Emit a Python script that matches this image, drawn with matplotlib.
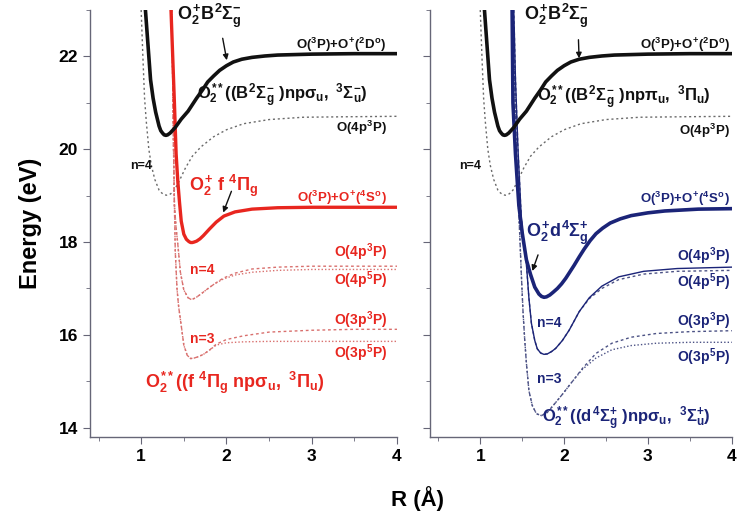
import matplotlib
matplotlib.use('Agg')
import matplotlib.pyplot as plt
from matplotlib.ticker import MultipleLocator

plt.rcParams['font.family'] = ['Liberation Sans', 'DejaVu Sans']
plt.rcParams['font.weight'] = 'bold'
plt.rcParams['mathtext.fontset'] = 'custom'
plt.rcParams['mathtext.rm'] = 'Liberation Sans:bold'
plt.rcParams['mathtext.it'] = 'Liberation Sans:bold'
plt.rcParams['mathtext.bf'] = 'Liberation Sans:bold'
plt.rcParams['mathtext.sf'] = 'Liberation Sans:bold'

BLACK = '#111111'
RED = '#e8261f'
RED_DOT = '#d9706e'
NAVY = '#1b2478'
NAVY_DOT = '#4c5285'
GRAY_DOT = '#6a6a6a'

# --- O2+ B2Sigma_g- (both panels)
B_R = [1.05, 1.07, 1.09, 1.11, 1.14, 1.17, 1.21, 1.23, 1.25, 1.27, 1.29, 1.31, 1.34,
       1.37, 1.40, 1.47, 1.55, 1.65, 1.72, 1.78, 1.85, 1.92, 2.0, 2.08, 2.18, 2.3,
       2.45, 2.6, 3.0, 3.5, 4.0]
B_E = [23.0, 22.5, 22.0, 21.5, 21.1, 20.8, 20.5, 20.4, 20.35, 20.31, 20.3, 20.31, 20.35,
       20.41, 20.47, 20.65, 20.82, 21.1, 21.28, 21.45, 21.58, 21.7, 21.8, 21.88, 21.94, 21.98,
       22.01, 22.03, 22.05, 22.06, 22.06]

# --- Rydberg n=4 converging to O(4p3P), gray dotted (both panels)
G_R = [1.00, 1.02, 1.04, 1.06, 1.09, 1.12, 1.16, 1.21, 1.24, 1.27, 1.30, 1.33, 1.36, 1.39,
       1.45, 1.52, 1.60, 1.70, 1.85, 2.0, 2.2, 2.5, 2.9, 3.4, 4.0]
G_E = [23.0, 22.0, 21.1, 20.6, 20.0, 19.65, 19.35, 19.12, 19.06, 19.02, 19.01, 19.02, 19.06, 19.12,
       19.33, 19.6, 19.85, 20.05, 20.27, 20.42, 20.55, 20.64, 20.69, 20.7, 20.71]

# --- O2+ f4Pi_g (left, red)
F_R = [1.35, 1.37, 1.39, 1.41, 1.43, 1.45, 1.47, 1.50, 1.53, 1.56, 1.58, 1.60, 1.62,
       1.65, 1.69, 1.73, 1.80, 1.88, 1.97, 2.1, 2.3, 2.6, 3.0, 3.5, 4.0]
F_E = [23.0, 22.0, 21.0, 19.9, 19.3, 18.85, 18.45, 18.17, 18.06, 18.01, 17.99, 17.99, 18.0,
       18.02, 18.07, 18.14, 18.28, 18.43, 18.56, 18.65, 18.71, 18.74, 18.75, 18.75, 18.75]

# --- left n=4 pair (3P / 5P)
F4_R = [1.36, 1.37, 1.38, 1.39, 1.41, 1.43, 1.46, 1.50, 1.55, 1.59, 1.64, 1.70,
        1.77, 1.86, 1.96, 2.1, 2.3, 2.6, 3.0, 3.5, 4.0]
F4_3P = [23.0, 21.5, 20.0, 18.8, 18.3, 17.95, 17.35, 16.97, 16.8, 16.76, 16.8, 16.88,
         16.98, 17.1, 17.22, 17.33, 17.42, 17.46, 17.48, 17.48, 17.48]
F4_5P = [23.0, 21.5, 20.0, 18.8, 18.3, 17.95, 17.35, 16.97, 16.8, 16.76, 16.8, 16.88,
         16.98, 17.1, 17.2, 17.29, 17.35, 17.39, 17.41, 17.41, 17.41]

# --- left n=3 pair
F3_R = [1.36, 1.37, 1.38, 1.39, 1.40, 1.42, 1.44, 1.47, 1.50, 1.54, 1.58, 1.62,
        1.67, 1.73, 1.80, 1.88, 2.0, 2.2, 2.5, 3.0, 3.5, 4.0]
F3_3P = [23.0, 21.5, 20.0, 18.8, 17.8, 17.0, 16.6, 16.2, 15.78, 15.56, 15.49, 15.5,
         15.53, 15.58, 15.67, 15.8, 15.9, 15.98, 16.06, 16.1, 16.12, 16.12]
F3_5P = [23.0, 21.5, 20.0, 18.8, 17.8, 17.0, 16.6, 16.2, 15.78, 15.56, 15.49, 15.5,
         15.53, 15.58, 15.67, 15.78, 15.83, 15.85, 15.86, 15.86, 15.86, 15.86]

# --- O2+ d4Sigma_g+ (right, navy)
D_R = [1.38, 1.39, 1.42, 1.46, 1.50, 1.55, 1.60, 1.65, 1.70, 1.73, 1.76, 1.79, 1.83,
       1.87, 1.92, 1.97, 2.02, 2.07, 2.12, 2.18, 2.24, 2.31, 2.38, 2.46, 2.55, 2.67,
       2.8, 3.0, 3.2, 3.6, 4.0]
D_E = [23.0, 21.0, 19.9, 18.8, 18.2, 17.62, 17.3, 17.03, 16.88, 16.83, 16.81, 16.82, 16.86,
       16.92, 17.0, 17.1, 17.22, 17.36, 17.5, 17.68, 17.85, 18.03, 18.18, 18.3, 18.41, 18.5,
       18.57, 18.63, 18.67, 18.71, 18.72]

# --- right n=4 pair
D4_R = [1.40, 1.42, 1.45, 1.49, 1.52, 1.55, 1.58, 1.61, 1.65, 1.68, 1.72, 1.76, 1.80,
        1.85, 1.90, 1.98, 2.06, 2.18, 2.3, 2.45, 2.65, 2.95, 3.35, 4.0]
D4_3P = [23.0, 21.5, 20.0, 18.5, 17.95, 17.54, 16.8, 16.25, 15.88, 15.7, 15.61, 15.58, 15.59,
         15.64, 15.71, 15.88, 16.1, 16.5, 16.8, 17.05, 17.25, 17.37, 17.43, 17.46]
D4_5P = [23.0, 21.5, 20.0, 18.5, 17.95, 17.54, 16.8, 16.25, 15.88, 15.7, 15.61, 15.58, 15.59,
         15.64, 15.71, 15.88, 16.1, 16.5, 16.78, 17.0, 17.19, 17.31, 17.37, 17.39]

# --- right n=3 pair
D3_R = [1.39, 1.41, 1.43, 1.45, 1.47, 1.49, 1.51, 1.53, 1.55, 1.58, 1.62, 1.67,
        1.73, 1.80, 1.88, 1.98, 2.1, 2.22, 2.38, 2.57, 2.8, 3.1, 3.5, 4.0]
D3_3P = [23.0, 21.5, 20.0, 19.0, 18.2, 17.3, 16.5, 15.9, 15.4, 14.8, 14.48, 14.3,
         14.26, 14.33, 14.5, 14.72, 15.0, 15.28, 15.6, 15.82, 15.95, 16.03, 16.07, 16.09]
D3_5P = [23.0, 21.5, 20.0, 19.0, 18.2, 17.3, 16.5, 15.9, 15.4, 14.8, 14.48, 14.3,
         14.26, 14.33, 14.5, 14.72, 15.0, 15.26, 15.5, 15.68, 15.77, 15.82, 15.84, 15.84]

fig = plt.figure(figsize=(7.37, 5.15), dpi=100)
axL = fig.add_axes([0.1221, 0.1515, 0.4166, 0.829])
axR = fig.add_axes([0.5834, 0.1515, 0.4095, 0.829])

for ax in (axL, axR):
    ax.set_xlim(0.4, 4.0)
    ax.set_ylim(13.8, 23.0)
    ax.spines['top'].set_visible(False)
    ax.spines['right'].set_visible(False)
    for s in ('left', 'bottom'):
        ax.spines[s].set_color('#666677')
        ax.spines[s].set_linewidth(1.0)
    ax.xaxis.set_major_locator(MultipleLocator(1))
    ax.xaxis.set_minor_locator(MultipleLocator(0.5))
    ax.yaxis.set_major_locator(MultipleLocator(2))
    ax.yaxis.set_minor_locator(MultipleLocator(1))
    ax.tick_params(which='both', direction='out', color='#666677', labelsize=12.5)
    ax.tick_params(which='major', length=5)
    ax.tick_params(which='minor', length=3)
    for lab in ax.get_xticklabels() + ax.get_yticklabels():
        lab.set_fontweight('bold')
    # common B-state and its Rydberg n=4
    ax.plot(G_R, G_E, color=GRAY_DOT, lw=1.0, ls=(0, (1.5, 2.0)), zorder=2)
    ax.plot(B_R, B_E, color=BLACK, lw=2.6, zorder=4)

axR.tick_params(axis='y', labelleft=False)
axL.set_ylabel('Energy (eV)', fontsize=17, fontweight='bold', labelpad=12)
fig.text(0.566, 0.018, 'R (Å)', fontsize=16, fontweight='bold', ha='center')

# ---- left panel (f4Pi_g, red)
for e, st in ((F4_3P, (0, (2, 2))), (F4_5P, (0, (1, 1.5)))):
    axL.plot(F4_R, e, color=RED_DOT, lw=1.0, ls=st, zorder=2)
for e, st in ((F3_3P, (0, (2, 2))), (F3_5P, (0, (1, 1.5)))):
    axL.plot(F3_R, e, color=RED_DOT, lw=1.0, ls=st, zorder=2)
axL.plot(F_R, F_E, color=RED, lw=2.4, zorder=3)

ARW = dict(arrowstyle='-|>', color=BLACK, lw=1.0, mutation_scale=8)

axL.text(1.8, 22.88, r'$O_2^{+}B^2\Sigma_g^{-}$', fontsize=13, color=BLACK, ha='center', va='center')
axL.annotate('', xy=(2.01, 21.86), xytext=(1.95, 22.45), arrowprops=ARW)
axL.text(3.88, 22.25, r'$O({}^3P)$+$O^{+}({}^2D^{o})$', fontsize=9.5, color=BLACK, ha='right', va='center')
axL.text(1.66, 21.15, r'$O_2^{**}((B^2\Sigma_g^{-}\ )np\sigma_u,\ {}^3\Sigma_u^{-})$', fontsize=12,
         color=BLACK, ha='left', va='center')
axL.text(3.88, 20.45, r'$O(4p^3P)$', fontsize=9.5, color=BLACK, ha='right', va='center')
axL.text(1.0, 19.65, 'n=4', fontsize=9, color=BLACK, ha='center', va='center')

axL.text(1.56, 19.22, r'$O_2^{+}\ f\ {}^4\Pi_g$', fontsize=13, color=RED, ha='left', va='center')
axL.annotate('', xy=(1.95, 18.58), xytext=(2.07, 19.15), arrowprops=ARW)
axL.text(3.88, 18.96, r'$O({}^3P)$+$O^{+}({}^4S^{o})$', fontsize=9.5, color=RED, ha='right', va='center')
axL.text(3.88, 17.78, r'$O(4p^3P)$', fontsize=10, color=RED, ha='right', va='center')
axL.text(3.88, 17.17, r'$O(4p^5P)$', fontsize=10, color=RED, ha='right', va='center')
axL.text(1.57, 17.39, 'n=4', fontsize=10, color=RED, ha='left', va='center')
axL.text(3.88, 16.31, r'$O(3p^3P)$', fontsize=10, color=RED, ha='right', va='center')
axL.text(3.88, 15.60, r'$O(3p^5P)$', fontsize=10, color=RED, ha='right', va='center')
axL.text(1.57, 15.92, 'n=3', fontsize=10, color=RED, ha='left', va='center')
axL.text(1.04, 14.97, r'$O_2^{**}((f\ {}^4\Pi_g\ np\sigma_u,\ {}^3\Pi_u)$', fontsize=13,
         color=RED, ha='left', va='center')

# ---- right panel (d4Sigma_g+, navy)
axR.plot(D3_R, D3_3P, color=NAVY_DOT, lw=1.0, ls=(0, (2, 2)), zorder=2)
axR.plot(D3_R, D3_5P, color=NAVY_DOT, lw=1.0, ls=(0, (1, 1.5)), zorder=2)
axR.plot(D4_R, D4_5P, color=NAVY_DOT, lw=1.0, ls=(0, (2, 2)), zorder=2)
axR.plot(D4_R, D4_3P, color=NAVY, lw=1.0, zorder=3)
axR.plot(D_R, D_E, color=NAVY, lw=2.6, zorder=3)

axR.text(1.91, 22.88, r'$O_2^{+}B^2\Sigma_g^{-}$', fontsize=13, color=BLACK, ha='center', va='center')
axR.annotate('', xy=(2.18, 21.9), xytext=(2.17, 22.42), arrowprops=ARW)
axR.text(3.98, 22.25, r'$O({}^3P)$+$O^{+}({}^2D^{o})$', fontsize=9.5, color=BLACK, ha='right', va='center')
axR.text(1.68, 21.1, r'$O_2^{**}((B^2\Sigma_g^{-}\ )np\pi_u,\ {}^3\Pi_u)$', fontsize=12,
         color=BLACK, ha='left', va='center')
axR.text(3.98, 20.4, r'$O(4p^3P)$', fontsize=9.5, color=BLACK, ha='right', va='center')
axR.text(0.88, 19.65, 'n=4', fontsize=9, color=BLACK, ha='center', va='center')

axR.text(3.98, 18.94, r'$O({}^3P)$+$O^{+}({}^4S^{o})$', fontsize=9.5, color=NAVY, ha='right', va='center')
axR.text(1.55, 18.2, r'$O_2^{+}d^4\Sigma_g^{+}$', fontsize=13, color=NAVY, ha='left', va='center')
axR.annotate('', xy=(1.61, 17.32), xytext=(1.70, 17.78), arrowprops=ARW)
axR.text(3.98, 17.70, r'$O(4p^3P)$', fontsize=10, color=NAVY, ha='right', va='center')
axR.text(3.98, 17.13, r'$O(4p^5P)$', fontsize=10, color=NAVY, ha='right', va='center')
axR.text(1.68, 16.25, 'n=4', fontsize=10, color=NAVY, ha='left', va='center')
axR.text(3.98, 16.29, r'$O(3p^3P)$', fontsize=10, color=NAVY, ha='right', va='center')
axR.text(3.98, 15.51, r'$O(3p^5P)$', fontsize=10, color=NAVY, ha='right', va='center')
axR.text(1.68, 15.06, 'n=3', fontsize=10, color=NAVY, ha='left', va='center')
axR.text(1.74, 14.2, r'$O_2^{**}((d^4\Sigma_g^{+}\ )np\sigma_u,\ {}^3\Sigma_u^{+})$', fontsize=12,
         color=NAVY, ha='left', va='center')

fig.savefig('out.png', dpi=100, facecolor='white')
